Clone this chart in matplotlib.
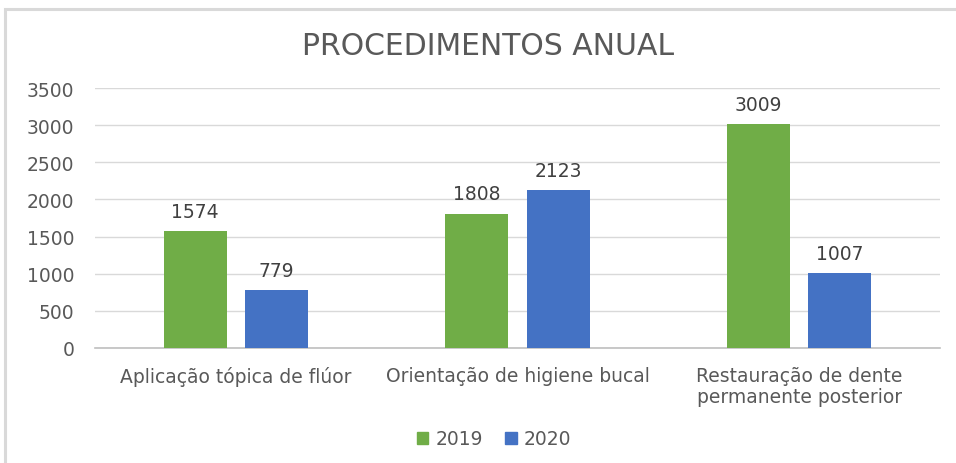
import matplotlib
matplotlib.use("Agg")
import matplotlib.pyplot as plt
from matplotlib.patches import Rectangle, Patch
import numpy as np

categories = ["Aplicação tópica de flúor", "Orientação de higiene bucal",
              "Restauração de dente\npermanente posterior"]
series_names = ["2019", "2020"]
values_2019 = [1574, 1808, 3009]
values_2020 = [779, 2123, 1007]
yticks = [0, 500, 1000, 1500, 2000, 2500, 3000, 3500]
title = "PROCEDIMENTOS ANUAL"

green = "#70AD47"
blue = "#4472C4"
txt = "#595959"
font = "DejaVu Sans"
plt.rcParams['font.family'] = [font]
fs = 13.5

W, H = 956, 464
fig = plt.figure(figsize=(W/100, H/100), dpi=100)

# chart border
fig.patches.append(Rectangle((5/W, -0.1), 1.2, (H-10)/H + 0.1, transform=fig.transFigure,
                             fill=False, edgecolor="#D9D9D9", linewidth=2.2))

ax = fig.add_axes([95/W, (H-349)/H, 845/W, (349-89)/H])
x = np.arange(len(categories))
bw = 0.224
off = 0.144
b1 = ax.bar(x - off, values_2019, bw, color=green, label=series_names[0], zorder=3)
b2 = ax.bar(x + off, values_2020, bw, color=blue, label=series_names[1], zorder=3)
for bars, vals in ((b1, values_2019), (b2, values_2020)):
    for r, v in zip(bars, vals):
        ax.annotate(str(v), (r.get_x() + r.get_width()/2, v), xytext=(0, 7.5),
                    textcoords="offset points", ha="center", va="bottom",
                    fontsize=fs, color="#404040")

ax.set_xlim(-0.5, 2.5)
ax.set_ylim(0, 3500)
ax.set_yticks(yticks)
ax.set_yticklabels([str(t) for t in yticks])
ax.set_xticks(x)
ax.set_xticklabels(categories, linespacing=1.15)
ax.tick_params(axis="y", length=0, pad=15, labelsize=fs, labelcolor=txt)
ax.tick_params(axis="x", length=0, pad=13, labelsize=fs, labelcolor=txt)
ax.grid(axis="y", color="#D9D9D9", linewidth=1, zorder=0)
for s in ["top", "right", "left"]:
    ax.spines[s].set_visible(False)
ax.spines["bottom"].set_color("#BFBFBF")
ax.spines["bottom"].set_linewidth(1.2)

fig.text(488/W, 1 - 47/H, title, ha="center", va="center", fontsize=21.5, color=txt)

handles = [Patch(color=green), Patch(color=blue)]
fig.legend(handles, series_names, loc="center", bbox_to_anchor=(494/W, 1 - 440/H),
           ncol=2, frameon=False, fontsize=fs, labelcolor=txt,
           handlelength=0.6, handleheight=0.6, handletextpad=0.4, columnspacing=1.2)

fig.savefig("out.png", dpi=100, facecolor="white")
